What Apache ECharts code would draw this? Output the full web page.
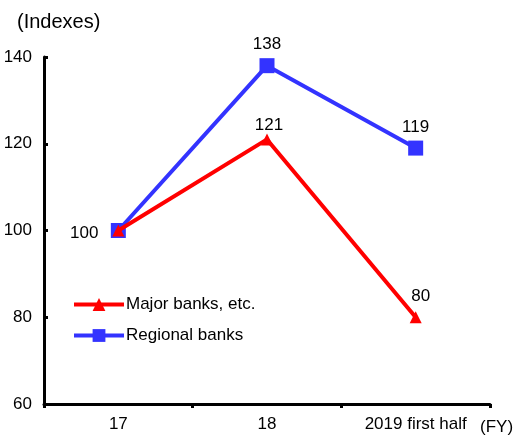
<!DOCTYPE html>
<html>
<head>
<meta charset="utf-8">
<script src="https://cdn.jsdelivr.net/npm/echarts@6/dist/echarts.min.js"></script>
<style>
  html, body { margin: 0; padding: 0; background: #fff; }
  #chart { width: 513px; height: 436px; }
</style>
</head>
<body>
<div id="chart"></div>
<script>
// Fiscal-year categories on the horizontal axis
const categories = ['17', '18', '2019 first half'];
// Index values (FY2017 = 100)
const majorBanks = [100, 121, 80];
const regionalBanks = [100, 138, 119];
// Value axis range and step
const yMin = 60, yMax = 140, yStep = 20;

const font = 'Liberation Sans, Arial, sans-serif';
const labelBase = { color: '#000', fontFamily: font, fontSize: 17 };

// Per-point label placement for the value labels
const regionalLabels = [
  { show: false },
  { position: 'top', distance: 5 },
  { position: 'top', distance: 5 }
];
const majorLabels = [
  { position: 'left', distance: 14, offset: [0, 3] },
  { position: 'top', distance: 0, offset: [2, 0] },
  { position: 'top', distance: 6, offset: [5, 0] }
];

const chart = echarts.init(document.getElementById('chart'));

chart.setOption({
  animation: false,
  backgroundColor: '#ffffff',
  grid: { left: 44, right: 23, top: 57, bottom: 32, containLabel: false },
  graphic: [
    { type: 'text', left: 17, top: 12,
      style: { text: '(Indexes)', font: '20px ' + font, fill: '#000' } },
    { type: 'text', left: 480, top: 419,
      style: { text: '(FY)', font: '17px ' + font, fill: '#000' } }
  ],
  legend: {
    orient: 'vertical',
    left: 67, top: 291,
    itemGap: 14,
    itemWidth: 50, itemHeight: 16,
    lineStyle: { width: 4 },
    textStyle: { fontFamily: font, fontSize: 17, color: '#000', padding: [0, 0, 0, -3] },
    data: [
      { name: 'Major banks, etc.', lineStyle: { width: 4, color: '#ff0000' } },
      { name: 'Regional banks', lineStyle: { width: 4, color: '#3333ff' } }
    ]
  },
  xAxis: {
    type: 'category',
    data: categories,
    boundaryGap: true,
    axisLine: { lineStyle: { color: '#000', width: 3 } },
    axisTick: { show: true, length: 4, inside: false, lineStyle: { color: '#000', width: 3 } },
    axisLabel: { color: '#000', fontFamily: font, fontSize: 17, margin: 12 }
  },
  yAxis: {
    type: 'value',
    min: yMin, max: yMax, interval: yStep,
    axisLine: { show: true, lineStyle: { color: '#000', width: 3 } },
    axisTick: { show: true, inside: true, length: 4, lineStyle: { color: '#000', width: 3 } },
    axisLabel: { color: '#000', fontFamily: font, fontSize: 17, margin: 12 },
    splitLine: { show: false }
  },
  series: [
    {
      name: 'Regional banks',
      type: 'line',
      data: regionalBanks.map((v, i) => ({ value: v, label: regionalLabels[i] })),
      color: '#3333ff',
      lineStyle: { width: 4, color: '#3333ff' },
      symbol: 'rect', symbolSize: 15,
      itemStyle: { color: '#3333ff' },
      label: Object.assign({ show: true }, labelBase),
      z: 2
    },
    {
      name: 'Major banks, etc.',
      type: 'line',
      data: majorBanks.map((v, i) => ({ value: v, label: majorLabels[i] })),
      color: '#ff0000',
      lineStyle: { width: 4, color: '#ff0000' },
      symbol: 'triangle', symbolSize: 12,
      itemStyle: { color: '#ff0000' },
      label: Object.assign({ show: true }, labelBase),
      z: 3
    }
  ]
});
</script>
</body>
</html>
